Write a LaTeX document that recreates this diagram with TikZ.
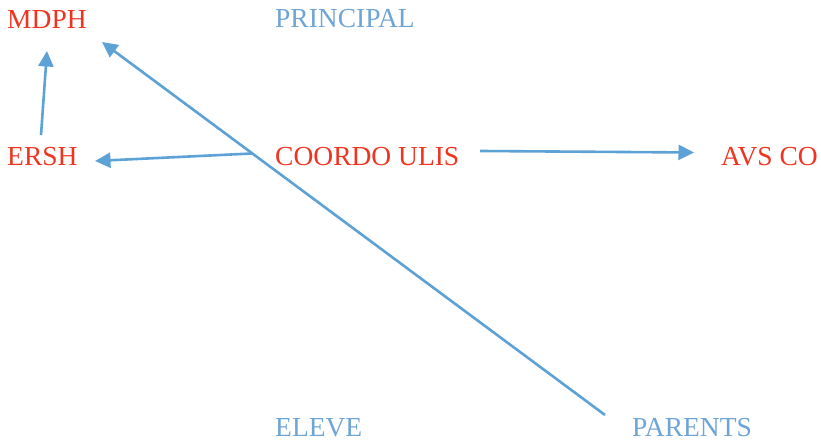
\documentclass[tikz,border=0pt]{standalone}
\usepackage{fontspec}
\setmainfont{Liberation Serif}
\usetikzlibrary{arrows.meta}
\definecolor{lbl red}{RGB}{240,52,32}
\definecolor{lbl blue}{RGB}{110,165,215}
\definecolor{conn blue}{RGB}{93,162,215}
\begin{document}
\begin{tikzpicture}[x=1pt,y=1pt,
  lbl/.style={anchor=base west,inner sep=0pt,font=\fontsize{27.5}{32}\selectfont},
  redlbl/.style={lbl,text=lbl red},
  bluelbl/.style={lbl,text=lbl blue},
  conn/.style={draw=conn blue,line width=2.6pt,-{Triangle[length=15.5pt,width=15pt]}}]
\useasboundingbox (0,0) rectangle (821,443);
% labels (y = 443 - image y)
\node[redlbl]  (mdph)   at (7,414)   {MDPH};
\node[bluelbl] (princ)  at (275,415) {PRINCIPAL};
\node[redlbl]  (ersh)   at (7,277)   {ERSH};
\node[redlbl]  (coordo) at (275,277) {COORDO ULIS};
\node[redlbl]  (avs)    at (721,277) {AVS CO};
\node[bluelbl] (eleve)  at (275,6)   {ELEVE};
\node[bluelbl] (parents) at (632,6)  {PARENTS};
% connector end points
\coordinate (ersh-top)   at (41,308);
\coordinate (mdph-bot)   at (47,392);
\coordinate (parents-tl) at (605,28);
\coordinate (mdph-right) at (102,401);
\coordinate (coordo-l)   at (252,289.5);
\coordinate (ersh-right) at (95,282);
\coordinate (coordo-r)   at (480,292);
\coordinate (avs-left)   at (694,290.5);
% connectors
\draw[conn] (ersh-top) -- (mdph-bot);
\draw[conn] (parents-tl) -- (mdph-right);
\draw[conn] (coordo-l) -- (ersh-right);
\draw[conn] (coordo-r) -- (avs-left);
\end{tikzpicture}
\end{document}
